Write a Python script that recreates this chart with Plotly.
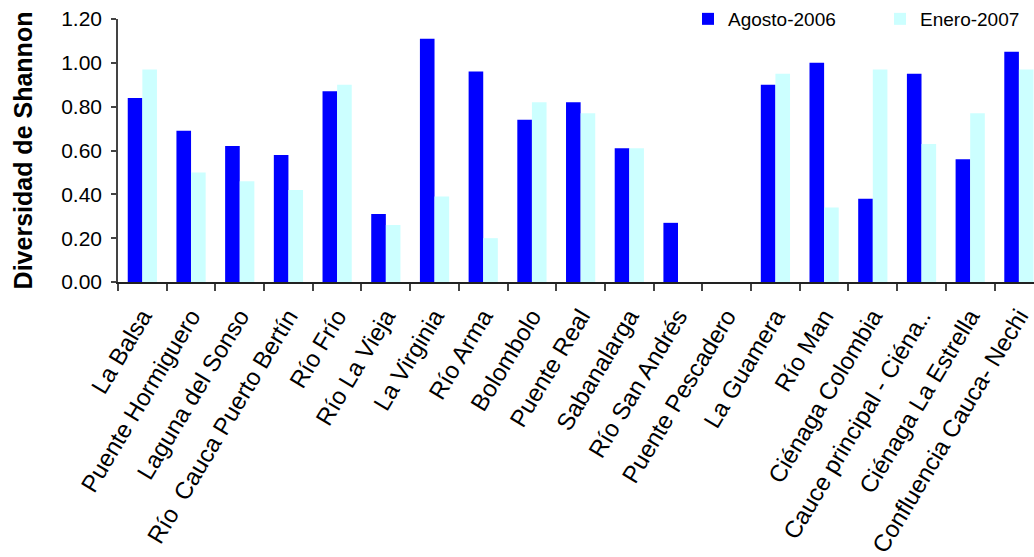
import plotly.graph_objects as go

# Sampling stations along the river
estaciones = [
    "La Balsa", "Puente Hormiguero", "Laguna del Sonso", "Río\u00a0 Cauca Puerto Bertín",
    "Río Frío", "Río La Vieja", "La Virginia", "Río Arma", "Bolombolo", "Puente Real",
    "Sabanalarga", "Río San Andrés", "Puente Pescadero", "La Guamera", "Río Man",
    "Ciénaga Colombia", "Cauce principal - Ciéna..", "Ciénaga La Estrella",
    "Confluencia Cauca- Nechi",
]

# Shannon diversity index per campaign
agosto_2006 = [0.84, 0.69, 0.62, 0.58, 0.87, 0.31, 1.11, 0.96, 0.74, 0.82,
               0.61, 0.27, None, 0.90, 1.00, 0.38, 0.95, 0.56, 1.05]
enero_2007 = [0.97, 0.50, 0.46, 0.42, 0.90, 0.26, 0.39, 0.20, 0.82, 0.77,
              0.61, None, None, 0.95, 0.34, 0.97, 0.63, 0.77, 0.97]

y_ticks = [0.0, 0.2, 0.4, 0.6, 0.8, 1.0, 1.2]

FONT = "Arial, Liberation Sans, sans-serif"

fig = go.Figure()
fig.add_trace(go.Bar(x=estaciones, y=agosto_2006, name="Agosto-2006",
                     marker=dict(color="#0000FF", line=dict(width=0))))
fig.add_trace(go.Bar(x=estaciones, y=enero_2007, name="Enero-2007",
                     marker=dict(color="#CCFFFF", line=dict(width=0))))

n = len(estaciones)
fig.update_layout(
    width=1034, height=557,
    margin=dict(l=118, r=0, t=19, b=275, autoexpand=False),
    paper_bgcolor="white", plot_bgcolor="white",
    barmode="group", bargap=0.4, bargroupgap=0,
    font=dict(family=FONT, size=20, color="black"),
    legend=dict(orientation="h", x=0.6223, y=1.0, xanchor="left", yanchor="middle",
                font=dict(size=19), entrywidth=147, entrywidthmode="pixels",
                bgcolor="rgba(0,0,0,0)", itemwidth=30),
    xaxis=dict(
        range=[-0.5, n - 1 + 0.31], tickangle=-59, ticks="outside", tickson="boundaries",
        ticklen=7, tickwidth=1.5, tickcolor="#444", showline=True, linecolor="#222",
        linewidth=1.5, showgrid=False, tickfont=dict(size=24), automargin=False,
        ticklabelstandoff=9,
    ),
    yaxis=dict(
        range=[0, 1.2], tickvals=y_ticks, tickformat=".2f", ticks="outside",
        ticklen=5, tickwidth=1.5, tickcolor="#444", showline=True, linecolor="#444",
        linewidth=1.5, showgrid=False, zeroline=False, tickfont=dict(size=21),
        ticklabelstandoff=5, automargin=False,
        title=dict(text="<b>Diversidad de Shannon</b>", font=dict(size=25), standoff=21),
    ),
)

fig.write_html("out.html")
